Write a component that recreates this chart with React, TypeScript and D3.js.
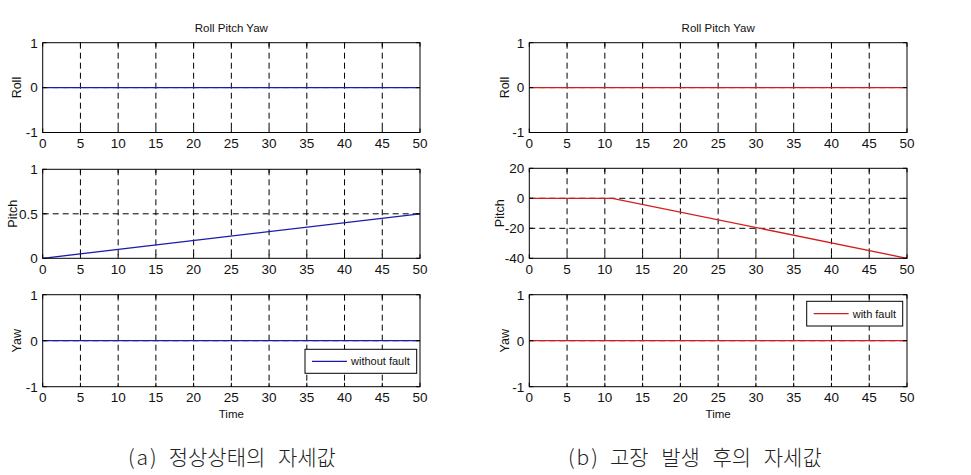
import React from "react";
import * as d3 from "d3";

// time axis
const timeTicks = [0, 5, 10, 15, 20, 25, 30, 35, 40, 45, 50];

// (a) normal attitude
const normalTime = [0, 50];
const normalRoll = [0, 0];
const normalPitch = [0, 0.5];
const normalYaw = [0, 0];

// (b) after fault
const faultTime = [0, 11, 50];
const faultRoll = [0, 0, 0];
const faultPitch = [0, 0, -40];
const faultYaw = [0, 0, 0];

const unitTicks = [-1, 0, 1];
const normalPitchTicks = [0, 0.5, 1];
const faultPitchTicks = [-40, -20, 0, 20];

const captionTags = ["(a)", "(b)"];
const captions = ["정상상태의 자세값", "고장 발생 후의 자세값"];
const legendLabels = ["without fault", "with fault"];

const BLUE = "#1c1caa";
const RED = "#d41c1c";
const FONT = "'Liberation Sans', Arial, sans-serif";
const TICK_FONT = "'Liberation Sans Narrow', 'Liberation Sans', Arial, sans-serif";

type PanelProps = {
  x0: number;
  x1: number;
  y0: number;
  y1: number;
  time: number[];
  values: number[];
  yTicks: number[];
  color: string;
  ylabel: string;
  ylabelX: number;
  title?: string;
  xlabel?: string;
  legend?: { label: string; x: number; y: number; w: number; h: number };
};

const Panel = ({ x0, x1, y0, y1, time, values, yTicks, color, ylabel, ylabelX, title, xlabel, legend }: PanelProps) => {
  const x = d3.scaleLinear().domain([0, 50]).range([x0, x1]);
  const y = d3.scaleLinear().domain(d3.extent(yTicks) as [number, number]).range([y1, y0]);
  const line = d3
    .line<number>()
    .x((_, i) => x(time[i]))
    .y((d) => y(d));
  const innerX = timeTicks.slice(1, -1);
  const innerY = yTicks.slice(1, -1);
  const tl = 4;
  return (
    <g>
      {innerX.map((t) => (
        <line key={"gx" + t} x1={x(t)} x2={x(t)} y1={y0} y2={y1} stroke="#000" strokeDasharray="6,4" />
      ))}
      {innerY.map((t) => (
        <line key={"gy" + t} x1={x0} x2={x1} y1={y(t)} y2={y(t)} stroke="#000" strokeDasharray="6,4" />
      ))}
      <path d={line(values) || ""} fill="none" stroke={color} strokeWidth={1.3} />
      <rect x={x0} y={y0} width={x1 - x0} height={y1 - y0} fill="none" stroke="#000" />
      {timeTicks.map((t) => (
        <g key={"tx" + t}>
          <line x1={x(t)} x2={x(t)} y1={y1} y2={y1 - tl} stroke="#000" />
          <line x1={x(t)} x2={x(t)} y1={y0} y2={y0 + tl} stroke="#000" />
          <text x={x(t)} y={y1 + 15.5} textAnchor="middle" fontSize={13.5} fontFamily={TICK_FONT} fill="#111">
            {t}
          </text>
        </g>
      ))}
      {yTicks.map((t) => (
        <g key={"ty" + t}>
          <line x1={x0} x2={x0 + tl} y1={y(t)} y2={y(t)} stroke="#000" />
          <line x1={x1} x2={x1 - tl} y1={y(t)} y2={y(t)} stroke="#000" />
          <text x={x0 - 5} y={y(t) + 4.8} textAnchor="end" fontSize={13.5} fontFamily={TICK_FONT} fill="#111">
            {t}
          </text>
        </g>
      ))}
      <text
        transform={`translate(${ylabelX},${(y0 + y1) / 2}) rotate(-90)`}
        textAnchor="middle"
        dy="0.35em"
        fontSize={12.5}
        fontFamily={FONT}
        fill="#111"
      >
        {ylabel}
      </text>
      {title && (
        <text x={(x0 + x1) / 2} y={y0 - 11} textAnchor="middle" fontSize={11.5} fontFamily={FONT} fill="#111">
          {title}
        </text>
      )}
      {xlabel && (
        <text x={(x0 + x1) / 2} y={y1 + 31} textAnchor="middle" fontSize={11.5} fontFamily={FONT} fill="#111">
          {xlabel}
        </text>
      )}
      {legend && (
        <g>
          <rect x={legend.x} y={legend.y} width={legend.w} height={legend.h} fill="#fff" stroke="#000" />
          <line
            x1={legend.x + 7}
            x2={legend.x + 42}
            y1={legend.y + legend.h / 2}
            y2={legend.y + legend.h / 2}
            stroke={color}
            strokeWidth={1.3}
          />
          <text x={legend.x + 46} y={legend.y + legend.h / 2 + 4} fontSize={11} fontFamily={FONT} fill="#111">
            {legend.label}
          </text>
        </g>
      )}
    </g>
  );
};

const App = () => {
  const L = { x0: 42.7, x1: 420 };
  const R = { x0: 529.3, x1: 907 };
  return (
    <div style={{ position: "absolute", left: 0, top: 0 }}>
      <svg width={971} height={475} style={{ display: "block", background: "#fff" }}>
        <Panel {...L} y0={42.7} y1={132.5} time={normalTime} values={normalRoll} yTicks={unitTicks} color={BLUE} ylabel="Roll" ylabelX={17} title="Roll Pitch Yaw" />
        <Panel {...L} y0={169.3} y1={258.3} time={normalTime} values={normalPitch} yTicks={normalPitchTicks} color={BLUE} ylabel="Pitch" ylabelX={13} />
        <Panel
          {...L}
          y0={294.7}
          y1={386.7}
          time={normalTime}
          values={normalYaw}
          yTicks={unitTicks}
          color={BLUE}
          ylabel="Yaw"
          ylabelX={17}
          xlabel="Time"
          legend={{ label: legendLabels[0], x: 305, y: 349.3, w: 111.7, h: 24 }}
        />
        <Panel {...R} y0={42.7} y1={132.5} time={faultTime} values={faultRoll} yTicks={unitTicks} color={RED} ylabel="Roll" ylabelX={505} title="Roll Pitch Yaw" />
        <Panel {...R} y0={168.3} y1={258.3} time={faultTime} values={faultPitch} yTicks={faultPitchTicks} color={RED} ylabel="Pitch" ylabelX={500} />
        <Panel
          {...R}
          y0={294.7}
          y1={386.7}
          time={faultTime}
          values={faultYaw}
          yTicks={unitTicks}
          color={RED}
          ylabel="Yaw"
          ylabelX={505}
          xlabel="Time"
          legend={{ label: legendLabels[1], x: 806.7, y: 301.3, w: 96, h: 24.7 }}
        />
        {captions.map((c, i) => (
          <text
            key={c}
            x={i === 0 ? 128 : 568}
            y={465}
            fontSize={21}
            fontWeight={300}
            wordSpacing={8}
            fontFamily="'Noto Sans CJK KR', 'DejaVu Serif', serif"
            fill="#222"
          >
            <tspan letterSpacing={2}>{captionTags[i]}</tspan>
            <tspan dx={10}>{c}</tspan>
          </text>
        ))}
      </svg>
    </div>
  );
};

export default App;
